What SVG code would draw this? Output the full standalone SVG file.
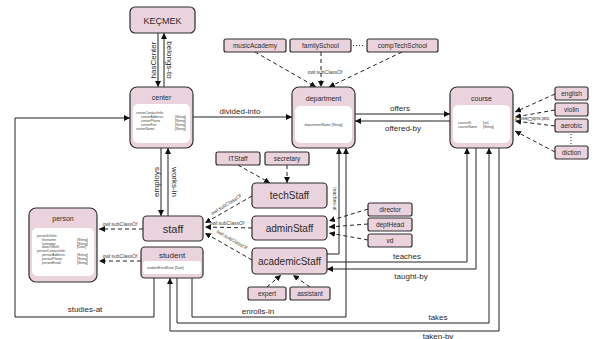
<svg xmlns="http://www.w3.org/2000/svg" width="596" height="339" viewBox="0 0 596 339">
  <defs>
    <marker id="arr" markerUnits="userSpaceOnUse" markerWidth="7" markerHeight="6" refX="6" refY="3" orient="auto">
      <path d="M0,0 L6,3 L0,6 z" fill="#111"/>
    </marker>
    <style>
      .node { fill: #ebd3de; stroke: #2e2e2e; stroke-width: 1.2; }
      .inner { fill: #ffffff; stroke: none; }
      .t { font-family: "Liberation Sans", Arial, sans-serif; fill: #2a2a2a; text-anchor: middle; }
      .a { font-family: "Liberation Sans", Arial, sans-serif; fill: #444; font-size: 3.4px; }
      .lbl { font-family: "Liberation Sans", Arial, sans-serif; fill: #2a2a2a; font-size: 8px; text-anchor: middle; }
      .sub { font-family: "Liberation Sans", Arial, sans-serif; fill: #444; font-size: 5px; text-anchor: middle; }
      .rel { fill: none; stroke: #222; stroke-width: 1; marker-end: url(#arr); }
      .isa { fill: none; stroke: #222; stroke-width: 1; stroke-dasharray: 4 3; marker-end: url(#arr); }
      .dots { fill: none; stroke: #333; stroke-width: 1; stroke-dasharray: 1 2; }
    </style>
  </defs>
  <rect width="596" height="339" fill="#ffffff"/>

  <!-- connectors -->
  <g id="connectors">
    <!-- KEÇMEK / center -->
    <path class="rel" d="M158,33 V87"/>
    <path class="rel" d="M164,87 V33"/>
    <!-- center / department / course -->
    <path class="rel" d="M193,117 H292"/>
    <path class="rel" d="M355,114 H450"/>
    <path class="rel" d="M450,121 H355"/>
    <!-- center / staff -->
    <path class="rel" d="M161,148 V216"/>
    <path class="rel" d="M168,216 V148"/>
    <!-- studies-at -->
    <path class="rel" d="M154,278 V317 H15 V118 H130"/>
    <!-- enrolls-in -->
    <path class="rel" d="M192,278 V317 H346 V148"/>
    <!-- teaches-at -->
    <path class="rel" d="M327,254 H339 V148"/>
    <!-- teaches / taught-by -->
    <path class="rel" d="M327,262 H467 V148"/>
    <path class="rel" d="M476,148 V269 H327"/>
    <!-- takes / taken-by -->
    <path class="rel" d="M177,278 V323 H489 V148"/>
    <path class="rel" d="M499,148 V331 H170 V278"/>

    <!-- subclass links -->
    <path class="isa" d="M255,52 L316,87"/>
    <path class="isa" d="M321,52 V87"/>
    <path class="isa" d="M402,52 L329,87"/>
    <path class="dots" d="M353,45.5 H365"/>

    <path class="isa" d="M555,94 L515,112"/>
    <path class="isa" d="M555,110 L515,117"/>
    <path class="isa" d="M555,126 L515,121"/>
    <path class="isa" d="M555,152 L515,131"/>
    <path class="dots" d="M571,134 V145"/>

    <path class="isa" d="M238,165 L270,183"/>
    <path class="isa" d="M287,165 V183"/>

    <path class="isa" d="M368,209 L329,221"/>
    <path class="isa" d="M368,224 L329,227"/>
    <path class="isa" d="M368,240 L329,233"/>

    <path class="isa" d="M267,287 L281,275"/>
    <path class="isa" d="M310,287 L293,275"/>

    <path class="isa" d="M252,196 L205,223"/>
    <path class="isa" d="M252,228 L205,227"/>
    <path class="isa" d="M252,260 L205,233"/>

    <path class="isa" d="M143,229 H99"/>
    <path class="isa" d="M141,261 H99"/>

    <!-- connector labels -->
    <text class="lbl" transform="translate(155.5,60) rotate(-90)">hasCenter</text>
    <text class="lbl" transform="translate(166.5,60) rotate(90)">belongs-to</text>
    <text class="lbl" x="240" y="114">divided-into</text>
    <text class="lbl" x="400" y="111">offers</text>
    <text class="lbl" x="403" y="131">offered-by</text>
    <text class="lbl" transform="translate(159,182) rotate(-90)">employs</text>
    <text class="lbl" transform="translate(171.5,182) rotate(90)">works-in</text>
    <text class="lbl" x="85" y="312">studies-at</text>
    <text class="lbl" x="258" y="314">enrolls-in</text>
    <text class="sub" font-size="5.5" transform="translate(333,199) rotate(90)">teaches-at</text>
    <text class="lbl" x="407" y="259">teaches</text>
    <text class="lbl" x="411" y="279">taught-by</text>
    <text class="lbl" x="438" y="320">takes</text>
    <text class="lbl" x="438" y="338.5" font-size="7.5">taken-by</text>

    <text class="sub" x="325" y="74">owl:subClassOf</text>
    <text class="sub" transform="translate(532,117) rotate(180)">owl:subClassOf</text>
    <text class="sub" transform="translate(227,206) rotate(-32)">owl:subClassOf</text>
    <text class="sub" x="227" y="225">owl:subClassOf</text>
    <text class="sub" transform="translate(231,241) rotate(30)">owl:subClassOf</text>
    <text class="sub" x="120" y="226">owl:subClassOf</text>
    <text class="sub" x="120" y="258">owl:subClassOf</text>
  </g>

  <!-- KEÇMEK -->
  <g id="kecmek">
    <rect class="node" x="130" y="7" width="65" height="26" rx="5"/>
    <text class="t" x="162.5" y="24" font-size="9">KEÇMEK</text>
  </g>

  <!-- center -->
  <g id="center">
    <rect class="node" x="130" y="87" width="63" height="61" rx="7"/>
    <rect class="inner" x="133" y="104" width="57" height="39" rx="5"/>
    <text class="t" x="161.5" y="100" font-size="7">center</text>
    <text class="a" x="136" y="114">centerContactInfo:</text>
    <text class="a" x="141" y="118">centerAddress</text>
    <text class="a" x="141" y="122">centerPhone</text>
    <text class="a" x="141" y="126">centerFax</text>
    <text class="a" x="136" y="130">centerName</text>
    <text class="a" x="175" y="118">[String]</text>
    <text class="a" x="175" y="122">[String]</text>
    <text class="a" x="175" y="126">[String]</text>
    <text class="a" x="175" y="130">[String]</text>
  </g>

  <!-- department -->
  <g id="department">
    <rect class="node" x="292" y="87" width="63" height="61" rx="7"/>
    <rect class="inner" x="295" y="106" width="57" height="37" rx="5"/>
    <text class="t" x="323.5" y="101" font-size="7">department</text>
    <text class="a" x="323.5" y="126" text-anchor="middle">departmentName  [String]</text>
  </g>

  <!-- course -->
  <g id="course">
    <rect class="node" x="450" y="87" width="63" height="61" rx="7"/>
    <rect class="inner" x="453" y="105" width="57" height="38" rx="5"/>
    <text class="t" x="481.5" y="101" font-size="7">course</text>
    <text class="a" x="458" y="124">courseID</text>
    <text class="a" x="458" y="128">courseName</text>
    <text class="a" x="483" y="124">[int]</text>
    <text class="a" x="483" y="128">[String]</text>
  </g>

  <!-- department subclasses -->
  <g id="musicAcademy">
    <rect class="node" x="224" y="39" width="62" height="13" rx="2"/>
    <text class="t" x="255" y="48" font-size="6.5">musicAcademy</text>
  </g>
  <g id="familySchool">
    <rect class="node" x="290" y="39" width="61" height="13" rx="2"/>
    <text class="t" x="320.5" y="48" font-size="6.5">familySchool</text>
  </g>
  <g id="compTechSchool">
    <rect class="node" x="367" y="39" width="71" height="13" rx="2"/>
    <text class="t" x="402.5" y="48" font-size="6.5">compTechSchool</text>
  </g>

  <!-- course subclasses -->
  <g id="english">
    <rect class="node" x="555" y="87" width="33" height="13" rx="2"/>
    <text class="t" x="571.5" y="96" font-size="6.5">english</text>
  </g>
  <g id="violin">
    <rect class="node" x="555" y="103" width="33" height="13" rx="2"/>
    <text class="t" x="571.5" y="112" font-size="6.5">violin</text>
  </g>
  <g id="aerobic">
    <rect class="node" x="555" y="119" width="33" height="13" rx="2"/>
    <text class="t" x="571.5" y="128" font-size="6.5">aerobic</text>
  </g>
  <g id="diction">
    <rect class="node" x="555" y="146" width="33" height="13" rx="2"/>
    <text class="t" x="571.5" y="155" font-size="6.5">diction</text>
  </g>

  <!-- person -->
  <g id="person">
    <rect class="node" x="29" y="208" width="68" height="74" rx="7"/>
    <rect class="inner" x="32" y="228" width="62" height="48" rx="5"/>
    <text class="t" x="63" y="221" font-size="7">person</text>
    <text class="a" x="37" y="237">personDtInfo:</text>
    <text class="a" x="42" y="240.8">firstname</text>
    <text class="a" x="42" y="244.6">lastname</text>
    <text class="a" x="42" y="248.4">dateOfBirth</text>
    <text class="a" x="37" y="252.2">personContactInfo:</text>
    <text class="a" x="42" y="256">personAddress</text>
    <text class="a" x="42" y="259.8">personPhone</text>
    <text class="a" x="42" y="263.6">personEmail</text>
    <text class="a" x="77" y="240.8">[String]</text>
    <text class="a" x="77" y="244.6">[String]</text>
    <text class="a" x="77" y="248.4">[Date]</text>
    <text class="a" x="77" y="256">[String]</text>
    <text class="a" x="77" y="259.8">[String]</text>
    <text class="a" x="77" y="263.6">[String]</text>
  </g>

  <!-- staff -->
  <g id="staff">
    <rect class="node" x="143" y="216" width="60" height="25" rx="4"/>
    <text class="t" x="173" y="233" font-size="11">staff</text>
  </g>

  <!-- student -->
  <g id="student">
    <rect class="node" x="141" y="247" width="62" height="31" rx="4"/>
    <rect class="inner" x="143" y="261" width="58" height="13" rx="3"/>
    <text class="t" x="172" y="257.5" font-size="8">student</text>
    <text class="a" x="147" y="269">studentEnrollDate  [Date]</text>
  </g>

  <!-- staff subclasses -->
  <g id="techStaff">
    <rect class="node" x="252" y="183" width="75" height="25" rx="4"/>
    <text class="t" x="289.5" y="199" font-size="10">techStaff</text>
  </g>
  <g id="adminStaff">
    <rect class="node" x="252" y="216" width="75" height="24" rx="4"/>
    <text class="t" x="289.5" y="232" font-size="10">adminStaff</text>
  </g>
  <g id="academicStaff">
    <rect class="node" x="252" y="248" width="75" height="26" rx="4"/>
    <text class="t" x="289.5" y="265" font-size="10">academicStaff</text>
  </g>

  <g id="ITStaff">
    <rect class="node" x="216" y="152" width="44" height="13" rx="2"/>
    <text class="t" x="238" y="161" font-size="6.5">ITStaff</text>
  </g>
  <g id="secretary">
    <rect class="node" x="265" y="152" width="44" height="13" rx="2"/>
    <text class="t" x="287" y="161" font-size="6.5">secretary</text>
  </g>

  <g id="director">
    <rect class="node" x="368" y="203" width="44" height="13" rx="2"/>
    <text class="t" x="390" y="212" font-size="6.5">director</text>
  </g>
  <g id="deptHead">
    <rect class="node" x="368" y="218" width="44" height="13" rx="2"/>
    <text class="t" x="390" y="227" font-size="6.5">deptHead</text>
  </g>
  <g id="vd">
    <rect class="node" x="368" y="234" width="44" height="13" rx="2"/>
    <text class="t" x="390" y="243" font-size="6.5">vd</text>
  </g>

  <g id="expert">
    <rect class="node" x="248" y="287" width="38" height="13" rx="2"/>
    <text class="t" x="267" y="296" font-size="6.5">expert</text>
  </g>
  <g id="assistant">
    <rect class="node" x="290" y="287" width="40" height="13" rx="2"/>
    <text class="t" x="310" y="296" font-size="6.5">assistant</text>
  </g>
</svg>
